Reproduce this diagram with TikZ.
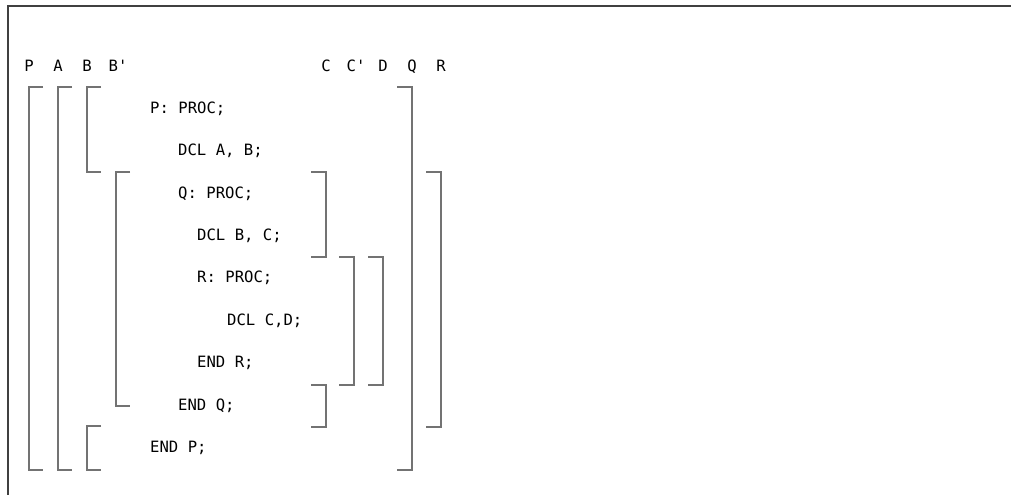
\documentclass[tikz,border=0pt]{standalone}
\usepackage{fontspec}
\setmonofont{DejaVu Sans Mono}
\usetikzlibrary{positioning}

\begin{document}
\begin{tikzpicture}[
  x=1pt, y=-1pt,
  code/.style={anchor=base west, inner sep=0pt,
               font=\fontsize{15.6}{18}\selectfont\ttfamily},
  tag/.style={anchor=base, inner sep=0pt,
              font=\fontsize{15.6}{18}\selectfont\ttfamily},
  frame/.style={draw=black!75, line width=1.6pt},
  brk/.style={draw=black!55, line width=1.2pt}
]
\useasboundingbox (0,0) rectangle (1011,495);
\draw[frame] (1011,6) -- (8,6) -- (8,495);

% scope labels
\node[tag] (lP)  at (29,71)  {P};
\node[tag] (lA)  at (58,71)  {A};
\node[tag] (lB)  at (87,71)  {B};
\node[tag] (lBp) at (118,71) {B'};
\node[tag] (lC)  at (326,71) {C};
\node[tag] (lCp) at (356,71) {C'};
\node[tag] (lD)  at (383,71) {D};
\node[tag] (lQ)  at (412,71) {Q};
\node[tag] (lR)  at (441,71) {R};

% program text
\node[code] (p1) at (150,113) {P: PROC;};
\node[code] (p2) at (178,155) {DCL A, B;};
\node[code] (p3) at (178,198) {Q: PROC;};
\node[code] (p4) at (197,240) {DCL B, C;};
\node[code] (p5) at (197,282) {R: PROC;};
\node[code] (p6) at (227,325) {DCL C,D;};
\node[code] (p7) at (197,367) {END R;};
\node[code] (p8) at (178,410) {END Q;};
\node[code] (p9) at (150,452) {END P;};

% opening brackets
\foreach \x/\ya/\yb in {29/87/470, 58/87/470, 87/87/172, 87/426/470, 116/172/406}
  \draw[brk] (\x+14,\ya) -| (\x,\yb) -- (\x+14,\yb);

% closing brackets
\foreach \x/\ya/\yb in {326/172/257, 326/385/427, 354/257/385, 383/257/385,
                        412/87/470, 441/172/427}
  \draw[brk] (\x-15,\ya) -| (\x,\yb) -- (\x-15,\yb);
\end{tikzpicture}
\end{document}
